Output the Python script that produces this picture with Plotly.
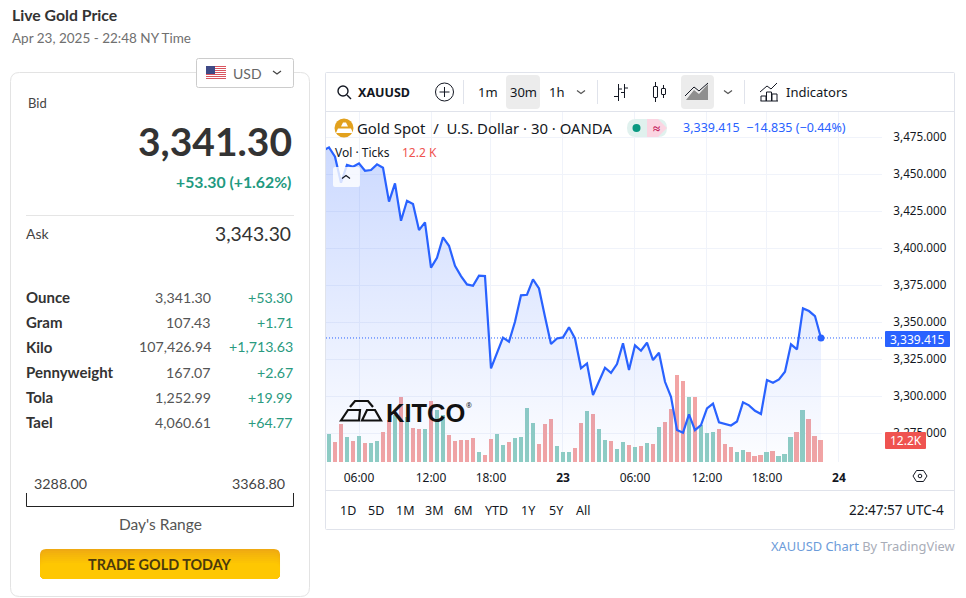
#%% Import modules
import plotly.graph_objects as go

W, H = 966, 598
CHART_FONT = "Noto Sans"
PANEL_FONT = "Lato"

#%% Data (30 min bars, bar 0 = 03:30)
price_bars = list(range(-1, 83))
prices = [3465.9, 3468.2, 3461.9, 3444.3, 3456.3, 3455.1, 3457.4, 3452.4, 3452.9, 3456.7,
          3454.4, 3431.5, 3443.9, 3418.6, 3432.1, 3429.9, 3412.3, 3417.5, 3386.9, 3393.6,
          3407.4, 3401.7, 3388.2, 3381.2, 3375.6, 3374.7, 3381.5, 3381.2, 3318.9, 3329.0,
          3339.6, 3336.9, 3350.4, 3368.2, 3368.6, 3379.0, 3372.9, 3353.8, 3335.3, 3339.1,
          3339.8, 3346.6, 3339.1, 3318.9, 3322.2, 3300.9, 3309.8, 3319.3, 3315.9, 3321.8,
          3335.8, 3317.7, 3334.4, 3330.8, 3336.2, 3324.5, 3329.4, 3309.8, 3299.7, 3277.2,
          3275.4, 3287.8, 3277.2, 3280.6, 3291.8, 3295.0, 3282.4, 3281.2, 3280.3, 3283.0,
          3295.9, 3293.9, 3290.2, 3288.0, 3311.0, 3309.2, 3311.4, 3316.6, 3335.1, 3331.7,
          3359.4, 3357.6, 3354.2, 3339.415]

volume_bars = list(range(0, 83))
volume_k = [15.5, 10.9, 21.1, 13.9, 11.6, 14.4, 10.5, 10.5, 11.6, 16.6,
            23.3, 26.1, 36.0, 25.1, 18.8, 18.3, 18.3, 33.8, 28.8, 26.1,
            15.0, 11.6, 12.2, 12.2, 13.3, 5.5, 3.9, 12.8, 15.5, 9.4,
            11.1, 13.3, 13.9, 29.9, 21.6, 10.0, 21.1, 23.8, 8.9, 5.5,
            5.5, 7.8, 21.6, 28.3, 26.6, 18.3, 12.2, 11.6, 7.2, 11.1,
            9.4, 8.3, 8.9, 10.5, 10.0, 19.4, 22.2, 29.4, 48.2, 44.9,
            36.0, 36.0, 20.5, 16.1, 16.6, 18.3, 10.0, 8.3, 5.5, 6.7,
            5.5, 3.3, 3.9, 5.5, 6.1, 3.3, 4.4, 13.9, 16.6, 28.8,
            23.8, 14.4, 12.2]
volume_dir = "GRRGRGRGGRRGRGRRGRGGRRRRRGRRGGRGGGGRRRGGGRRGRGGRGGRGRGRGRRRRGRGGGRRRGGRRRGRGGGRGRRR"

time_ticks = [5, 17, 27, 39, 51, 63, 73, 85]
time_labels = ["06:00", "12:00", "18:00", "<b>23</b>", "06:00", "12:00", "18:00", "<b>24</b>"]
price_ticks = [3275, 3300, 3325, 3350, 3375, 3400, 3425, 3450, 3475]
last_price = 3339.415

table_units = ["Ounce", "Gram", "Kilo", "Pennyweight", "Tola", "Tael"]
table_prices = ["3,341.30", "107.43", "107,426.94", "167.07", "1,252.99", "4,060.61"]
table_changes = ["+53.30", "+1.71", "+1,713.63", "+2.67", "+19.99", "+64.77"]
range_buttons = ["1D", "5D", "1M", "3M", "6M", "YTD", "1Y", "5Y", "All"]

#%% Helpers, everything below is in screen pixels
shapes = []
annotations = []

def X(x):
    return x / W

def Y(y):
    return 1 - y / H

def text(x, y, s, size=12, color="#131722", anchor="left", weight=400, family=CHART_FONT):
    annotations.append(dict(x=X(x), y=Y(y), xref="paper", yref="paper", text=s, showarrow=False,
                            xanchor=anchor, yanchor="middle", borderpad=0, borderwidth=0,
                            font=dict(size=size, color=color, family=family, weight=weight)))

def add_path(d, color=None, width=1, fill=None, layer="above"):
    shapes.append(dict(type="path", path=d, xref="paper", yref="paper", layer=layer,
                       line=dict(color=color or "rgba(0,0,0,0)", width=width if color else 0),
                       fillcolor=fill or "rgba(0,0,0,0)"))

def poly(pts, color=None, width=1, fill=None, close=False, layer="above"):
    d = "M" + " L".join(f"{X(x):.5f},{Y(y):.5f}" for x, y in pts)
    add_path(d + (" Z" if close else ""), color, width, fill, layer)

def rrect(x0, y0, x1, y1, r, color=None, width=1, fill=None, layer="above"):
    p = lambda x, y: f"{X(x):.5f},{Y(y):.5f}"
    d = (f"M{p(x0 + r, y0)} L{p(x1 - r, y0)} Q{p(x1, y0)} {p(x1, y0 + r)} L{p(x1, y1 - r)} "
         f"Q{p(x1, y1)} {p(x1 - r, y1)} L{p(x0 + r, y1)} Q{p(x0, y1)} {p(x0, y1 - r)} "
         f"L{p(x0, y0 + r)} Q{p(x0, y0)} {p(x0 + r, y0)} Z")
    add_path(d, color, width, fill, layer)

def circle(cx, cy, r, color=None, width=1, fill=None, layer="above"):
    shapes.append(dict(type="circle", xref="paper", yref="paper", layer=layer,
                       x0=X(cx - r), x1=X(cx + r), y0=Y(cy + r), y1=Y(cy - r),
                       line=dict(color=color or "rgba(0,0,0,0)", width=width if color else 0),
                       fillcolor=fill or "rgba(0,0,0,0)"))

def chevron(cx, cy, color="#555555", up=False):
    d = -3 if up else 3
    poly([(cx - 4, cy - d / 2), (cx, cy + d / 2), (cx + 4, cy - d / 2)], color, 1.2)

#%% Left card
text(12, 15, "Live Gold Price", 15.8, "#333333", weight=700, family=PANEL_FONT)
text(12, 38, "Apr 23, 2025 - 22:48 NY Time", 13.5, "#707070", family=PANEL_FONT)
rrect(10.5, 72.5, 309.5, 596.5, 9, "#e3e3e3", 1, layer="below")

rrect(196.5, 58.5, 293.5, 87.5, 2, "#cccccc", 1, "#ffffff")
for k in range(7):
    poly([(206, 66 + k * 2), (226, 66 + k * 2), (226, 67 + k * 2), (206, 67 + k * 2)], fill="#d9545f", close=True)
poly([(206, 66), (215, 66), (215, 74), (206, 74)], fill="#3f4a86", close=True)
text(233, 73, "USD", 14, "#666666", family=PANEL_FONT)
chevron(277, 72.5, "#444444")

text(28, 103, "Bid", 13, "#444444", family=PANEL_FONT)
text(292, 141, "3,341.30", 39, "#333333", "right", 700, PANEL_FONT)
text(291, 181, "+53.30 (+1.62%)", 15.8, "#1f9a80", "right", 700, PANEL_FONT)
poly([(26, 215.5), (294, 215.5)], "#e5e5e5", 1)
text(26, 234, "Ask", 14, "#444444", family=PANEL_FONT)
text(291, 234, "3,343.30", 19.3, "#333333", "right", family=PANEL_FONT)

for row, (unit, value, change) in enumerate(zip(table_units, table_prices, table_changes)):
    y = 297 + row * 25
    text(26, y, unit, 15, "#333333", weight=700, family=PANEL_FONT)
    text(211, y, value, 14.2, "#555555", "right", family=PANEL_FONT)
    text(293, y, change, 14.2, "#2a9a80", "right", family=PANEL_FONT)

text(34, 483, "3288.00", 14.3, "#444444", family=PANEL_FONT)
text(232, 483, "3368.80", 14.3, "#444444", family=PANEL_FONT)
poly([(26.5, 493), (26.5, 506.5), (293.5, 506.5), (293.5, 493)], "#222222", 1)
text(160, 524, "Day's Range", 15.5, "#555555", "center", family=PANEL_FONT)

button_colors = ["#efaa12", "#f2af0f", "#f4b40c", "#f6b80a", "#f8bc08", "#fabf06", "#fcc304", "#fec702"]
for k, c in enumerate(button_colors):
    rrect(40, 549 + k * 2, 280, 579, 6, fill=c)
text(160, 564, "TRADE GOLD TODAY", 14.4, "#4b3a0c", "center", 700, PANEL_FONT)

#%% Chart frame and toolbars
rrect(325.5, 72.5, 954.5, 529.5, 1, "#e0e3eb", 1, layer="below")
poly([(326, 111.5), (954, 111.5)], "#e0e3eb", 1, layer="below")
poly([(326, 490.5), (954, 490.5)], "#e0e3eb", 1, layer="below")

circle(343, 91, 5, "#131722", 1.4)
poly([(347, 95), (351, 99)], "#131722", 1.4)
text(358, 92, "XAUUSD", 12.5, "#131722", weight=700)
circle(444.5, 92, 9, "#131722", 1)
poly([(444.5, 87), (444.5, 97)], "#131722", 1)
poly([(439.5, 92), (449.5, 92)], "#131722", 1)
for sx in [463.5, 597.5, 744.5]:
    poly([(sx, 80), (sx, 104)], "#e0e3eb", 1)

rrect(506, 75, 540, 109, 4, fill="#ececec")
rrect(681, 75, 714, 109, 4, fill="#ececec")
text(488, 92, "1m", 13, "#131722", "center")
text(523, 92, "30m", 13, "#131722", "center")
text(556, 92, "1h", 13, "#131722", "center")
chevron(581, 92)
chevron(728, 92)

poly([(618.5, 84), (618.5, 101)], "#131722", 1)
poly([(614, 96.5), (618.5, 96.5)], "#131722", 1)
poly([(618.5, 89), (622, 89)], "#131722", 1)
poly([(624.5, 84), (624.5, 98)], "#131722", 1)
poly([(621, 92.5), (624.5, 92.5)], "#131722", 1)
poly([(624.5, 88), (628, 88)], "#131722", 1)

rrect(653.5, 86.5, 657.5, 97.5, 0.5, "#131722", 1)
poly([(655.5, 82), (655.5, 86.5)], "#131722", 1)
poly([(655.5, 97.5), (655.5, 102)], "#131722", 1)
rrect(661.5, 88.5, 665.5, 94.5, 0.5, "#131722", 1)
poly([(663.5, 85), (663.5, 88.5)], "#131722", 1)
poly([(663.5, 94.5), (663.5, 98)], "#131722", 1)

poly([(686, 100), (694, 90), (699, 94), (708, 84), (708, 100)], fill="#8f8f8f", close=True)
poly([(685, 96), (694, 87), (699, 91), (708, 83)], "#131722", 1)

poly([(760, 92), (767, 86), (771, 89), (777, 83)], "#131722", 1)
poly([(760.5, 101), (778, 101)], "#131722", 1)
for bx, by in [(761, 96), (766.5, 92), (772, 94)]:
    poly([(bx, 101), (bx, by), (bx + 5, by), (bx + 5, 101)], "#131722", 1)
text(786, 92, "Indicators", 13, "#131722")

#%% Legend row
circle(344, 128, 9.5, fill="#e2a11e")
poly([(341, 126.5), (343, 122.5), (346, 122.5), (348, 126.5)], fill="#ffffff", close=True)
poly([(336, 133), (338, 128.5), (351, 128.5), (353, 133)], fill="#ffffff", close=True)
text(357, 128, "Gold Spot  /  U.S. Dollar · 30 · OANDA", 14.9, "#131722")
rrect(627, 119, 667, 137, 9, fill="#e0f1ee")
poly([(647, 119), (658, 119), (667, 128), (658, 137), (647, 137)], fill="#fbd5e2", close=True)
circle(636.5, 128, 4, fill="#089981")
text(656.5, 128, "≈", 13, "#c2185b", "center", 700)
text(683, 128, "3,339.415  −14.835 (−0.44%)", 12.5, "#2962ff")
text(335, 152, "Vol · Ticks", 12, "#131722")
text(402, 152, "12.2 K", 12, "#ef5350")
rrect(333, 167, 360, 187, 2, fill="rgba(255,255,255,0.8)")
chevron(346, 177, "#131722", up=True)

#%% Logo
poly([(341, 420.5), (348, 410), (360, 410), (359, 420.5)], "#111111", 2.2, close=True)
poly([(362, 420.5), (367, 410), (375, 410), (381, 420.5)], "#111111", 2.2, close=True)
poly([(350, 407), (355, 401), (368, 401), (373, 407)], "#111111", 2.2)
text(386, 412.5, "KITCO", 25.5, "#111111", weight=700, family="Liberation Sans")
text(466, 405, "®", 7, "#111111")

#%% Price labels on the right, bottom toolbar, caption
rrect(885, 331, 950, 347, 1, fill="#2962ff")
text(917.5, 339, "3,339.415", 12, "#ffffff", "center")
rrect(885, 432, 926, 449, 1, fill="#ef5350")
text(905.5, 440.5, "12.2K", 12, "#ffffff", "center")

hex_pts = [(913, 476), (916.5, 470.5), (923.5, 470.5), (927, 476), (923.5, 481.5), (916.5, 481.5)]
poly(hex_pts, "#131722", 1, close=True)
circle(920, 476, 1.8, "#131722", 1)

for label, bx in zip(range_buttons, [348, 376, 405, 434, 463, 496, 528, 556, 583]):
    text(bx, 510, label, 12.5, "#131722", "center")
text(944, 510, "22:47:57 UTC-4", 13.5, "#131722", "right")
text(955, 546, "<span style='color:#6c9bd9'>XAUUSD Chart</span> By TradingView", 12.9, "#a9adb8", "right")

#%% Chart
fig = go.Figure()

fig.add_trace(go.Bar(x=volume_bars, y=volume_k, yaxis="y", width=0.83, showlegend=False,
                     marker=dict(color=["#8fcdc3" if d == "G" else "#f2a4a4" for d in volume_dir],
                                 line=dict(width=0))))

fig.add_trace(go.Scatter(x=price_bars, y=prices, yaxis="y2", mode="lines", showlegend=False,
                         line=dict(color="#2962ff", width=2.2), fill="tozeroy",
                         fillgradient=dict(type="vertical", start=3468, stop=3255,
                                           colorscale=[[0, "rgba(41,98,255,0.24)"], [1, "rgba(41,98,255,0.01)"]])))

fig.add_trace(go.Scatter(x=[price_bars[-1]], y=[last_price], yaxis="y2", mode="markers", showlegend=False,
                         marker=dict(color="#2962ff", size=7)))

shapes.append(dict(type="line", xref="paper", yref="y2", x0=X(326), x1=X(882), y0=last_price, y1=last_price,
                   line=dict(color="#2962ff", width=1, dash="1px,2px"), layer="above"))

fig.update_layout(
    width=W, height=H, margin=dict(l=0, r=0, t=0, b=0), paper_bgcolor="#ffffff", plot_bgcolor="#ffffff",
    bargap=0, shapes=shapes, annotations=annotations,
    font=dict(family=CHART_FONT, size=12, color="#131722"),
    xaxis=dict(domain=[X(326), X(882)], range=[-0.5, 92.17], tickmode="array", tickvals=time_ticks,
               ticktext=time_labels, showgrid=True, gridcolor="#f0f3fa", gridwidth=1, zeroline=False,
               ticks="outside", ticklen=5, tickcolor="rgba(0,0,0,0)", showline=False,
               tickfont=dict(size=12, color="#131722")),
    yaxis=dict(domain=[Y(462), Y(112)], range=[0, 194.1], visible=False),
    yaxis2=dict(domain=[Y(462), Y(112)], range=[3255.61, 3492.09], overlaying="y", side="right", anchor="x",
                tickmode="array", tickvals=price_ticks, tickformat=",.3f", showgrid=True,
                gridcolor="#f0f3fa", gridwidth=1, zeroline=False, ticks="outside", ticklen=8,
                tickcolor="rgba(0,0,0,0)", showline=False, tickfont=dict(size=11.7, color="#131722")),
)

# the page has to start at the window corner, no default body margin
fig.write_html("out.html", config=dict(displayModeBar=False),
               post_script="document.body.style.margin='0';document.body.style.overflow='hidden';")
